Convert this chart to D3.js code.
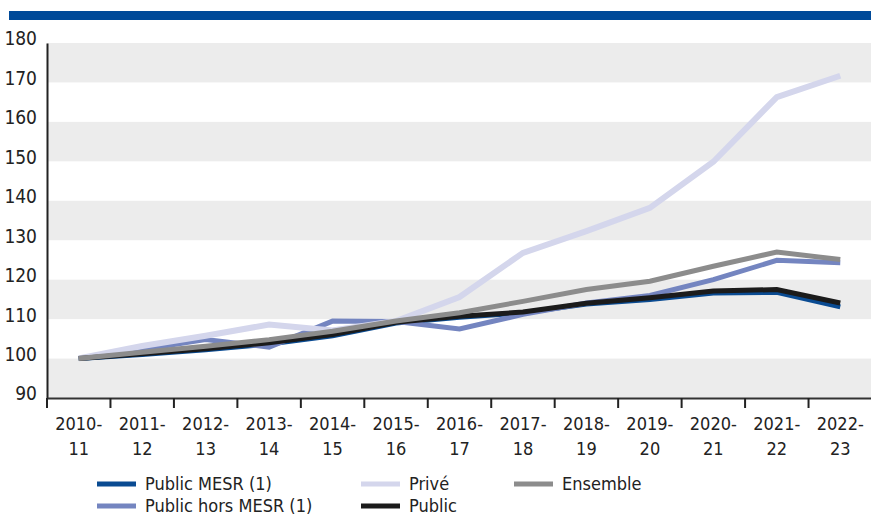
<!DOCTYPE html>
<html>
<head>
<meta charset="utf-8">
<script src="https://cdn.jsdelivr.net/npm/d3@7"></script>
<style>
  body { margin: 0; background: #fff; }
  svg text { font-family: "Liberation Sans Narrow", "DejaVu Sans Condensed", "Roboto Condensed", sans-serif; font-stretch: condensed; fill: #222; }
</style>
</head>
<body>
<div id="chart"></div>
<script>
var svgWidth = 871;
var svgHeight = 517;

// school years
var years = ["2010-11", "2011-12", "2012-13", "2013-14", "2014-15", "2015-16", "2016-17",
  "2017-18", "2018-19", "2019-20", "2020-21", "2021-22", "2022-23"];

var yTicks = [90, 100, 110, 120, 130, 140, 150, 160, 170, 180];

// index base 100 in 2010-11
var publicMesr = [100, 101.0, 102.2, 103.7, 105.8, 109.0, 110.5, 111.6, 113.8, 115.0, 116.6, 116.8, 113.1];
var publicHorsMesr = [100, 102.3, 104.8, 102.9, 109.5, 109.4, 107.5, 111.2, 114.1, 116.0, 120.0, 124.9, 124.3];
var prive = [100, 103.2, 105.8, 108.6, 107.1, 109.5, 115.6, 126.8, 132.3, 138.2, 149.9, 166.3, 171.7];
var publicAll = [100, 101.2, 102.5, 104.0, 106.1, 109.2, 110.7, 111.8, 114.0, 115.4, 117.1, 117.5, 114.1];
var ensemble = [100, 101.6, 103.1, 104.8, 106.9, 109.5, 111.6, 114.5, 117.5, 119.6, 123.4, 127.0, 125.1];

var series = [
  { name: "Public MESR (1)", values: publicMesr, color: "#0a4b92", width: 5 },
  { name: "Public hors MESR (1)", values: publicHorsMesr, color: "#7485c0", width: 5 },
  { name: "Privé", values: prive, color: "#d4d6ec", width: 6 },
  { name: "Public", values: publicAll, color: "#1b1b1b", width: 5 },
  { name: "Ensemble", values: ensemble, color: "#8c8c8c", width: 5 }
];

var margin = { top: 43, right: -1, bottom: 119, left: 47 };
var width = svgWidth - margin.left - margin.right;
var height = svgHeight - margin.top - margin.bottom;

var svg = d3.select("#chart")
  .append("svg")
  .attr("width", svgWidth)
  .attr("height", svgHeight);

// blue banner
svg.append("rect")
  .attr("x", 9)
  .attr("y", 11)
  .attr("width", svgWidth - 9)
  .attr("height", 9)
  .attr("fill", "#004a99");

var chartGroup = svg.append("g")
  .attr("transform", `translate(${margin.left}, ${margin.top})`);

var xScale = d3.scaleBand()
  .domain(years)
  .range([0, width]);

var yScale = d3.scaleLinear()
  .domain([90, 180])
  .range([height, 0]);

// alternating grey bands
var bands = yTicks.slice(0, -1).filter((d, i) => i % 2 == 0);
chartGroup.selectAll(".band")
  .data(bands)
  .enter()
  .append("rect")
  .attr("class", "band")
  .attr("x", 0)
  .attr("width", width)
  .attr("y", d => yScale(d + 10))
  .attr("height", d => yScale(d) - yScale(d + 10))
  .attr("fill", "#ececec");

// y axis
var yAxis = d3.axisLeft(yScale).tickValues(yTicks).tickSize(0).tickPadding(10);
var yg = chartGroup.append("g").call(yAxis);
yg.select(".domain").attr("stroke", "#222").attr("stroke-width", 2);
yg.selectAll("text")
  .attr("font-size", "19px")
  .attr("dy", "0.1em");

// x axis
var xAxis = d3.axisBottom(xScale).tickSize(0).tickFormat("");
var xg = chartGroup.append("g")
  .attr("transform", `translate(0, ${height})`)
  .call(xAxis);
xg.select(".domain").attr("stroke", "#333").attr("stroke-width", 2);

// tick marks between categories
var bounds = d3.range(years.length + 1).map(i => i * xScale.step());
xg.selectAll(".sep")
  .data(bounds)
  .enter()
  .append("line")
  .attr("class", "sep")
  .attr("x1", d => d).attr("x2", d => d)
  .attr("y1", 0).attr("y2", 10)
  .attr("stroke", "#222")
  .attr("stroke-width", 2);

var labels = xg.selectAll(".lab")
  .data(years)
  .enter()
  .append("text")
  .attr("class", "lab")
  .attr("text-anchor", "middle")
  .attr("font-size", "18px")
  .attr("x", d => xScale(d) + xScale.bandwidth() / 2);
labels.append("tspan")
  .attr("x", d => xScale(d) + xScale.bandwidth() / 2)
  .attr("y", 32)
  .text(d => d.split("-")[0] + "-");
labels.append("tspan")
  .attr("x", d => xScale(d) + xScale.bandwidth() / 2)
  .attr("y", 57)
  .text(d => d.split("-")[1]);

// lines
var line = d3.line()
  .x((d, i) => xScale(years[i]) + xScale.bandwidth() / 2)
  .y(d => yScale(d));

chartGroup.selectAll(".series")
  .data(series)
  .enter()
  .append("path")
  .attr("class", "series")
  .attr("d", d => line(d.values))
  .attr("fill", "none")
  .attr("stroke", d => d.color)
  .attr("stroke-width", d => d.width)
  .attr("stroke-linejoin", "miter");

// legend
var legendItems = [
  { s: series[0], x: 97, y: 484 },
  { s: series[2], x: 361, y: 484 },
  { s: series[4], x: 514, y: 484 },
  { s: series[1], x: 97, y: 506 },
  { s: series[3], x: 361, y: 506 }
];

var legend = svg.selectAll(".legend")
  .data(legendItems)
  .enter()
  .append("g")
  .attr("class", "legend")
  .attr("transform", d => `translate(${d.x}, ${d.y})`);

legend.append("line")
  .attr("x1", 0).attr("x2", 39)
  .attr("y1", 0).attr("y2", 0)
  .attr("stroke", d => d.s.color)
  .attr("stroke-width", 5);

legend.append("text")
  .attr("x", 48)
  .attr("y", 0)
  .attr("dy", "0.35em")
  .attr("font-size", "18px")
  .text(d => d.s.name);
</script>
</body>
</html>
